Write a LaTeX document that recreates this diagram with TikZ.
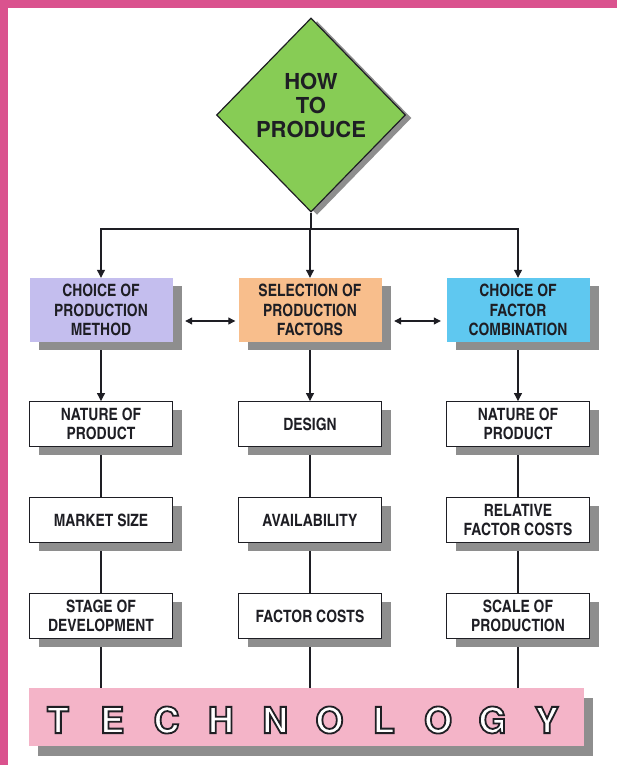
\documentclass[tikz,border=0pt]{standalone}
\usepackage{fontspec}
\setmainfont{TeX Gyre Heros}
\newfontfamily\condfont{texgyreheroscn-bold.otf}
\usetikzlibrary{shapes.geometric,shadows,backgrounds,arrows.meta}

\definecolor{inkblack}{RGB}{30,30,36}
\definecolor{pagepink}{RGB}{218,82,142}
\definecolor{shadowgrey}{RGB}{142,142,142}
\definecolor{leafgreen}{RGB}{135,204,85}
\definecolor{lavender}{RGB}{196,190,238}
\definecolor{peach}{RGB}{248,190,140}
\definecolor{skyblue}{RGB}{95,200,240}
\definecolor{barpink}{RGB}{244,180,200}

% white letters with a dark outline
\newcommand{\hollow}[1]{\textcolor{white}{\special{pdf:literal direct 0.12 0.12 0.14 RG 2 Tr 1.8 w}#1\special{pdf:literal direct 0 Tr}}}

\tikzset{
  factorbox/.style={rectangle, minimum width=143pt, inner sep=2pt, align=center,
    text=inkblack, font=\condfont\fontsize{17}{19.5}\selectfont,
    drop shadow={shadow xshift=9pt, shadow yshift=-8pt, fill=shadowgrey, opacity=1}},
  headbox/.style={factorbox, minimum height=64pt},
  itembox/.style={factorbox, draw=inkblack, line width=0.9pt, fill=white, minimum height=45pt},
  wire/.style={draw=inkblack, line width=1.1pt},
  arrowline/.style={-{Triangle[length=8pt,width=8pt]}},
  twoway/.style={{Triangle[length=7pt,width=7pt]}-{Triangle[length=7pt,width=7pt]}}
}

\begin{document}
\begin{tikzpicture}[x=1pt,y=-1pt]
\useasboundingbox (0,0) rectangle (617,765);
\begin{pgfonlayer}{background}
  \fill[white] (0,0) rectangle (617,765);
  \fill[pagepink] (0,0) rectangle (617,8);
  \fill[pagepink] (0,0) rectangle (8,765);
\end{pgfonlayer}

% top question
\node[diamond, draw=inkblack, line width=1.2pt, fill=leafgreen, aspect=1, inner sep=0pt,
  minimum width=189pt, minimum height=194pt,
  drop shadow={shadow xshift=6pt, shadow yshift=-3pt, fill=shadowgrey, opacity=1}] (how) at (311,115) {};
\node[align=center, text=inkblack, font=\bfseries\fontsize{22}{24}\selectfont] (howtext) at (311,105) {HOW\\TO\\PRODUCE};
\coordinate (split) at (311,229);

% three decisions
\node[headbox, fill=lavender] (method) at (101,310) {CHOICE OF\\PRODUCTION\\METHOD};
\node[headbox, fill=peach] (selection) at (310,310) {SELECTION OF\\PRODUCTION\\FACTORS};
\node[headbox, fill=skyblue] (combination) at (518,310) {CHOICE OF\\FACTOR\\COMBINATION};

% what each depends on
\node[itembox] (nature1) at (101,424) {NATURE OF\\PRODUCT};
\node[itembox] (market) at (101,520) {MARKET SIZE};
\node[itembox] (stage) at (101,616) {STAGE OF\\DEVELOPMENT};
\node[itembox] (design) at (310,424) {DESIGN};
\node[itembox] (avail) at (310,520) {AVAILABILITY};
\node[itembox] (costs) at (310,616) {FACTOR COSTS};
\node[itembox] (nature2) at (518,424) {NATURE OF\\PRODUCT};
\node[itembox] (relative) at (518,520) {RELATIVE\\FACTOR COSTS};
\node[itembox] (scale) at (518,616) {SCALE OF\\PRODUCTION};

% technology bar
\node[rectangle, fill=barpink, minimum width=555pt, minimum height=58pt, inner sep=0pt,
  drop shadow={shadow xshift=9pt, shadow yshift=-10pt, fill=shadowgrey, opacity=1}] (tech) at (306.5,717) {};
\foreach \ch [count=\i from 0] in {T,E,C,H,N,O,L,O,G,Y}
  \node[font=\bfseries\fontsize{36}{36}\selectfont, inner sep=0pt] (letter\i) at (58+54.3*\i,720) {\hollow{\ch}};

\begin{pgfonlayer}{background}
  \draw[wire] (how.south) -- (split);
  \draw[wire, arrowline] (split) -| (method.north);
  \draw[wire, arrowline] (split) -| (selection.north);
  \draw[wire, arrowline] (split) -| (combination.north);
  \draw[wire, arrowline] (method.south) -- (nature1.north);
  \draw[wire, arrowline] (selection.south) -- (design.north);
  \draw[wire, arrowline] (combination.south) -- (nature2.north);
  \draw[wire] (nature1) -- (market);
  \draw[wire] (market) -- (stage);
  \draw[wire] (design) -- (avail);
  \draw[wire] (avail) -- (costs);
  \draw[wire] (nature2) -- (relative);
  \draw[wire] (relative) -- (scale);
  \draw[wire] (stage.south) -- (stage.south |- tech.north);
  \draw[wire] (costs.south) -- (costs.south |- tech.north);
  \draw[wire] (scale.south) -- (scale.south |- tech.north);
\end{pgfonlayer}
\draw[wire, twoway] ([xshift=12.5pt,yshift=-11pt]method.east) -- ([xshift=-3pt,yshift=-11pt]selection.west);
\draw[wire, twoway] ([xshift=12.5pt,yshift=-11pt]selection.east) -- ([xshift=-5.5pt,yshift=-11pt]combination.west);
\end{tikzpicture}
\end{document}
